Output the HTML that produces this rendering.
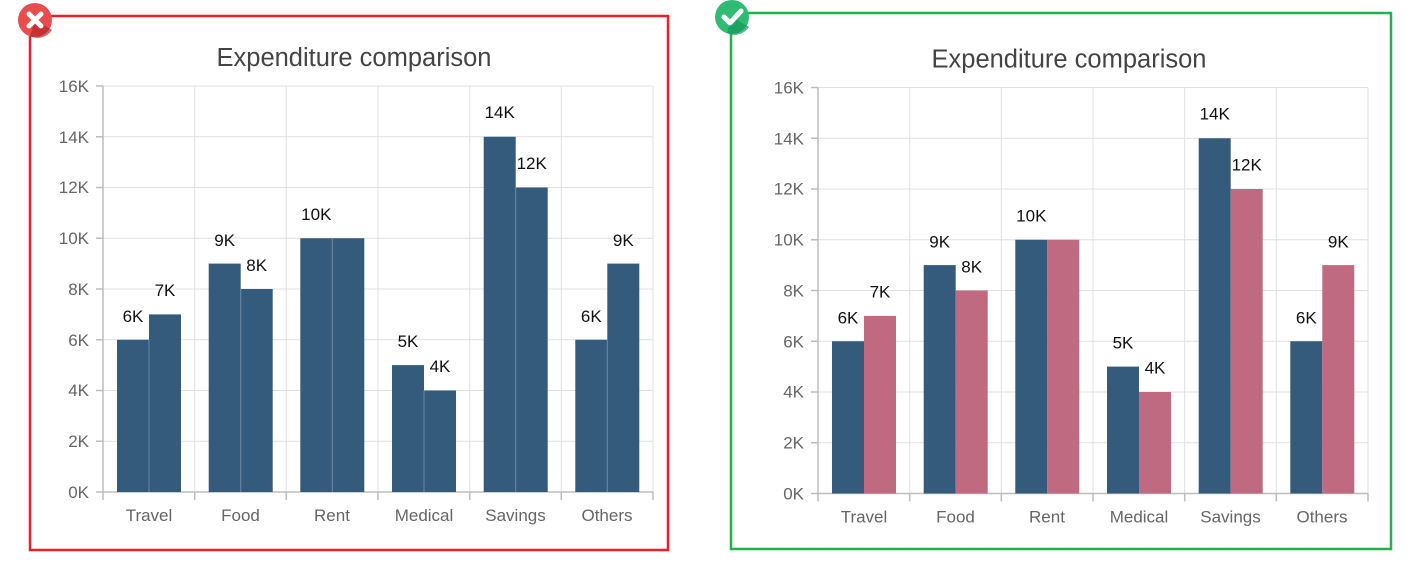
<!DOCTYPE html>
<html><head><meta charset="utf-8"><style>
html,body{margin:0;padding:0;background:#fff;}
svg{display:block;font-family:"Liberation Sans",sans-serif;}
.t{font-size:25.5px;fill:#444;text-anchor:middle}
.yl{font-size:17px;fill:#666;text-anchor:end}
.xl{font-size:17px;fill:#666;text-anchor:middle}
.dl{font-size:17px;fill:#111;text-anchor:middle}
.g{stroke:#e0e0e0;stroke-width:1}
.ax{stroke:#bdbdbd;stroke-width:1.5}
.n{fill:#345b7c}.p{fill:#c06a82}
</style></head><body>
<svg width="1428" height="571" viewBox="0 0 1428 571">
<!-- LEFT -->
<rect x="30" y="16" width="638" height="534" fill="none" stroke="#e8202a" stroke-width="2.5"/>
<g>
<text class="t" x="354" y="66">Expenditure comparison</text>
<g class="g">
<line x1="103" y1="86" x2="653" y2="86"/><line x1="103" y1="136.75" x2="653" y2="136.75"/><line x1="103" y1="187.5" x2="653" y2="187.5"/><line x1="103" y1="238.25" x2="653" y2="238.25"/><line x1="103" y1="289" x2="653" y2="289"/><line x1="103" y1="339.75" x2="653" y2="339.75"/><line x1="103" y1="390.5" x2="653" y2="390.5"/><line x1="103" y1="441.25" x2="653" y2="441.25"/>
<line x1="194.7" y1="86" x2="194.7" y2="492"/><line x1="286.3" y1="86" x2="286.3" y2="492"/><line x1="378" y1="86" x2="378" y2="492"/><line x1="469.7" y1="86" x2="469.7" y2="492"/><line x1="561.3" y1="86" x2="561.3" y2="492"/><line x1="653" y1="86" x2="653" y2="492"/>
</g>
<g class="ax">
<line x1="103" y1="86" x2="103" y2="492"/><line x1="96" y1="492" x2="653" y2="492"/>
<line x1="96" y1="86" x2="103" y2="86"/><line x1="96" y1="136.75" x2="103" y2="136.75"/><line x1="96" y1="187.5" x2="103" y2="187.5"/><line x1="96" y1="238.25" x2="103" y2="238.25"/><line x1="96" y1="289" x2="103" y2="289"/><line x1="96" y1="339.75" x2="103" y2="339.75"/><line x1="96" y1="390.5" x2="103" y2="390.5"/><line x1="96" y1="441.25" x2="103" y2="441.25"/>
<line x1="103" y1="492" x2="103" y2="500"/><line x1="194.7" y1="492" x2="194.7" y2="500"/><line x1="286.3" y1="492" x2="286.3" y2="500"/><line x1="378" y1="492" x2="378" y2="500"/><line x1="469.7" y1="492" x2="469.7" y2="500"/><line x1="561.3" y1="492" x2="561.3" y2="500"/><line x1="653" y1="492" x2="653" y2="500"/>
</g>
<text class="yl" x="89" y="92">16K</text><text class="yl" x="89" y="143">14K</text><text class="yl" x="89" y="193">12K</text><text class="yl" x="89" y="244">10K</text><text class="yl" x="89" y="295">8K</text><text class="yl" x="89" y="346">6K</text><text class="yl" x="89" y="396">4K</text><text class="yl" x="89" y="447">2K</text><text class="yl" x="89" y="498">0K</text>
<text class="xl" x="149" y="521">Travel</text><text class="xl" x="240.5" y="521">Food</text><text class="xl" x="332" y="521">Rent</text><text class="xl" x="424" y="521">Medical</text><text class="xl" x="515.5" y="521">Savings</text><text class="xl" x="607" y="521">Others</text>
<g class="n">
<rect x="117" y="339.75" width="32" height="152.25"/><rect x="149" y="314.4" width="32" height="177.6"/>
<rect x="208.7" y="263.6" width="32" height="228.4"/><rect x="240.7" y="289" width="32" height="203"/>
<rect x="300.3" y="238.25" width="32" height="253.75"/><rect x="332.3" y="238.25" width="32" height="253.75"/>
<rect x="392" y="365.1" width="32" height="126.9"/><rect x="424" y="390.5" width="32" height="101.5"/>
<rect x="483.7" y="136.75" width="32" height="355.25"/><rect x="515.7" y="187.5" width="32" height="304.5"/>
<rect x="575.3" y="339.75" width="32" height="152.25"/><rect x="607.3" y="263.6" width="32" height="228.4"/>
</g>
<g stroke="#6d89a3" stroke-width="1">
<line x1="149" y1="339.75" x2="149" y2="492"/><line x1="240.7" y1="289" x2="240.7" y2="492"/><line x1="332.3" y1="238.25" x2="332.3" y2="492"/><line x1="424" y1="390.5" x2="424" y2="492"/><line x1="515.7" y1="187.5" x2="515.7" y2="492"/><line x1="607.3" y1="339.75" x2="607.3" y2="492"/>
</g>
<text class="dl" x="133" y="322">6K</text><text class="dl" x="165" y="296">7K</text>
<text class="dl" x="224.7" y="246">9K</text><text class="dl" x="256.7" y="271">8K</text>
<text class="dl" x="316.3" y="220">10K</text>
<text class="dl" x="408" y="347">5K</text><text class="dl" x="440" y="372">4K</text>
<text class="dl" x="499.7" y="118">14K</text><text class="dl" x="531.7" y="169">12K</text>
<text class="dl" x="591.3" y="322">6K</text><text class="dl" x="623.3" y="246">9K</text>
</g>
<circle cx="35" cy="20" r="17" fill="#e84c4c"/>
<path d="M35 20 L52 30 A17 17 0 0 1 30 36 Z" fill="#b8262a" opacity="0.7"/>
<g stroke="#fff" stroke-width="5" stroke-linecap="round"><line x1="29" y1="14" x2="41" y2="26"/><line x1="41" y1="14" x2="29" y2="26"/></g>

<!-- RIGHT -->
<rect x="731" y="13" width="660" height="536" fill="none" stroke="#22b14c" stroke-width="2.5"/>
<g transform="translate(715,1.5)">
<text class="t" x="354" y="66">Expenditure comparison</text>
<g class="g">
<line x1="103" y1="86" x2="653" y2="86"/><line x1="103" y1="136.75" x2="653" y2="136.75"/><line x1="103" y1="187.5" x2="653" y2="187.5"/><line x1="103" y1="238.25" x2="653" y2="238.25"/><line x1="103" y1="289" x2="653" y2="289"/><line x1="103" y1="339.75" x2="653" y2="339.75"/><line x1="103" y1="390.5" x2="653" y2="390.5"/><line x1="103" y1="441.25" x2="653" y2="441.25"/>
<line x1="194.7" y1="86" x2="194.7" y2="492"/><line x1="286.3" y1="86" x2="286.3" y2="492"/><line x1="378" y1="86" x2="378" y2="492"/><line x1="469.7" y1="86" x2="469.7" y2="492"/><line x1="561.3" y1="86" x2="561.3" y2="492"/><line x1="653" y1="86" x2="653" y2="492"/>
</g>
<g class="ax">
<line x1="103" y1="86" x2="103" y2="492"/><line x1="96" y1="492" x2="653" y2="492"/>
<line x1="96" y1="86" x2="103" y2="86"/><line x1="96" y1="136.75" x2="103" y2="136.75"/><line x1="96" y1="187.5" x2="103" y2="187.5"/><line x1="96" y1="238.25" x2="103" y2="238.25"/><line x1="96" y1="289" x2="103" y2="289"/><line x1="96" y1="339.75" x2="103" y2="339.75"/><line x1="96" y1="390.5" x2="103" y2="390.5"/><line x1="96" y1="441.25" x2="103" y2="441.25"/>
<line x1="103" y1="492" x2="103" y2="500"/><line x1="194.7" y1="492" x2="194.7" y2="500"/><line x1="286.3" y1="492" x2="286.3" y2="500"/><line x1="378" y1="492" x2="378" y2="500"/><line x1="469.7" y1="492" x2="469.7" y2="500"/><line x1="561.3" y1="492" x2="561.3" y2="500"/><line x1="653" y1="492" x2="653" y2="500"/>
</g>
<text class="yl" x="89" y="92">16K</text><text class="yl" x="89" y="143">14K</text><text class="yl" x="89" y="193">12K</text><text class="yl" x="89" y="244">10K</text><text class="yl" x="89" y="295">8K</text><text class="yl" x="89" y="346">6K</text><text class="yl" x="89" y="396">4K</text><text class="yl" x="89" y="447">2K</text><text class="yl" x="89" y="498">0K</text>
<text class="xl" x="149" y="521">Travel</text><text class="xl" x="240.5" y="521">Food</text><text class="xl" x="332" y="521">Rent</text><text class="xl" x="424" y="521">Medical</text><text class="xl" x="515.5" y="521">Savings</text><text class="xl" x="607" y="521">Others</text>
<g class="n">
<rect x="117" y="339.75" width="32" height="152.25"/><rect x="208.7" y="263.6" width="32" height="228.4"/><rect x="300.3" y="238.25" width="32" height="253.75"/><rect x="392" y="365.1" width="32" height="126.9"/><rect x="483.7" y="136.75" width="32" height="355.25"/><rect x="575.3" y="339.75" width="32" height="152.25"/>
</g>
<g class="p">
<rect x="149" y="314.4" width="32" height="177.6"/><rect x="240.7" y="289" width="32" height="203"/><rect x="332.3" y="238.25" width="32" height="253.75"/><rect x="424" y="390.5" width="32" height="101.5"/><rect x="515.7" y="187.5" width="32" height="304.5"/><rect x="607.3" y="263.6" width="32" height="228.4"/>
</g>
<text class="dl" x="133" y="322">6K</text><text class="dl" x="165" y="296">7K</text>
<text class="dl" x="224.7" y="246">9K</text><text class="dl" x="256.7" y="271">8K</text>
<text class="dl" x="316.3" y="220">10K</text>
<text class="dl" x="408" y="347">5K</text><text class="dl" x="440" y="372">4K</text>
<text class="dl" x="499.7" y="118">14K</text><text class="dl" x="531.7" y="169">12K</text>
<text class="dl" x="591.3" y="322">6K</text><text class="dl" x="623.3" y="246">9K</text>
</g>
<circle cx="732" cy="17" r="17" fill="#2fbb72"/>
<path d="M732 17 L749 27 A17 17 0 0 1 727 33 Z" fill="#12985a" opacity="0.7"/>
<polyline points="724,17 730,23 741,11" fill="none" stroke="#fff" stroke-width="5" stroke-linecap="round" stroke-linejoin="round"/>
</svg>
</body></html>
